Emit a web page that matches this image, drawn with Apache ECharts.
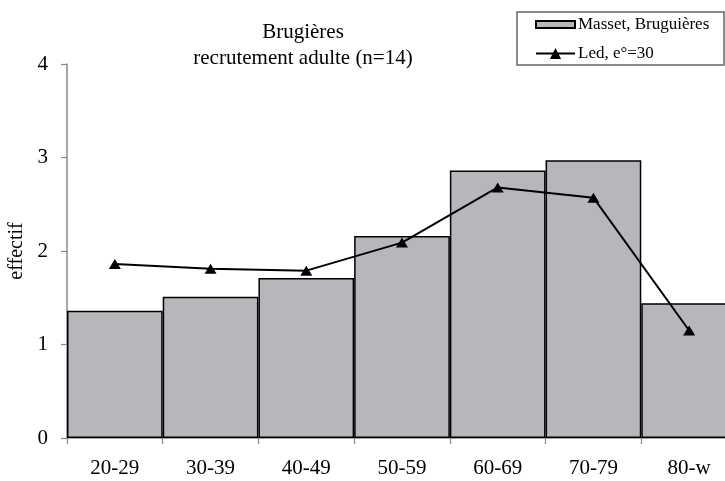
<!DOCTYPE html>
<html>
<head>
<meta charset="utf-8">
<script src="https://cdn.jsdelivr.net/npm/echarts@6/dist/echarts.min.js"></script>
<style>html,body{margin:0;padding:0;background:#fff}#c{width:725px;height:481px}</style>
</head>
<body>
<div id="c"></div>
<script>
var categories = ['20-29', '30-39', '40-49', '50-59', '60-69', '70-79', '80-w'];
var masset = [1.36, 1.51, 1.71, 2.16, 2.86, 2.97, 1.44];
var led = [1.86, 1.81, 1.79, 2.09, 2.68, 2.57, 1.15];
var yTicks = [0, 1, 2, 3, 4];

var FONT = '"Liberation Serif", "Times New Roman", serif';
var chart = echarts.init(document.getElementById('c'), null, {renderer: 'canvas'});
chart.setOption({
  animation: false,
  backgroundColor: '#fff',
  textStyle: {fontFamily: FONT, color: '#000'},
  title: {
    text: 'Brugières\nrecrutement adulte (n=14)',
    left: 298, top: 14, textAlign: 'center',
    textStyle: {fontFamily: FONT, fontSize: 21, lineHeight: 26, fontWeight: 'normal', color: '#000'}
  },
  graphic: [{
    type: 'rect', shape: {x: 517, y: 12, width: 207, height: 53},
    style: {fill: '#fff', stroke: '#666', lineWidth: 1.5}, z: 1
  }],
  legend: [{
    data: [{name: 'Masset, Bruguières', icon: 'rect'}],
    left: 535, top: 16, padding: 0, itemWidth: 39, itemHeight: 7, itemGap: 0,
    textStyle: {fontFamily: FONT, fontSize: 17, color: '#000', padding: [4, 0, 0, -2]}, z: 5
  }, {
    data: ['Led, e°=30'],
    left: 535, top: 45, padding: 0, itemWidth: 39, itemHeight: 14, itemGap: 0,
    textStyle: {fontFamily: FONT, fontSize: 17, color: '#000', padding: [0, 0, 0, -2]}, z: 5
  }],
  grid: {left: 67, right: -12, top: 64, bottom: 43, containLabel: false, outerBoundsMode: 'none'},
  xAxis: {
    type: 'category', data: categories, boundaryGap: true,
    axisLine: {show: true, lineStyle: {color: '#888', width: 1.5}},
    axisTick: {show: true, length: 6, lineStyle: {color: '#888', width: 1.2}},
    axisLabel: {fontFamily: FONT, fontSize: 21, color: '#000', margin: 20, interval: 0},
    splitLine: {show: false}
  },
  yAxis: {
    type: 'value', min: 0, max: 4, interval: 1,
    name: 'effectif', nameLocation: 'middle', nameRotate: 90, nameGap: 36,
    nameTextStyle: {fontFamily: FONT, fontSize: 20, color: '#000'},
    axisLine: {show: true, lineStyle: {color: '#888', width: 1.5}},
    axisTick: {show: true, length: 6, lineStyle: {color: '#888', width: 1.2}},
    axisLabel: {fontFamily: FONT, fontSize: 21, color: '#000', margin: 19,
      customValues: yTicks},
    splitLine: {show: false}
  },
  series: [{
    name: 'Masset, Bruguières', type: 'bar', data: masset,
    barCategoryGap: '0%',
    itemStyle: {color: '#b6b7bb', borderColor: '#000', borderWidth: 1.5},
    z: 2
  }, {
    name: 'Led, e°=30', type: 'line', data: led,
    symbol: 'triangle', symbolSize: [12, 10],
    lineStyle: {color: '#000', width: 2},
    itemStyle: {color: '#000'},
    z: 3
  }]
});
</script>
</body>
</html>
